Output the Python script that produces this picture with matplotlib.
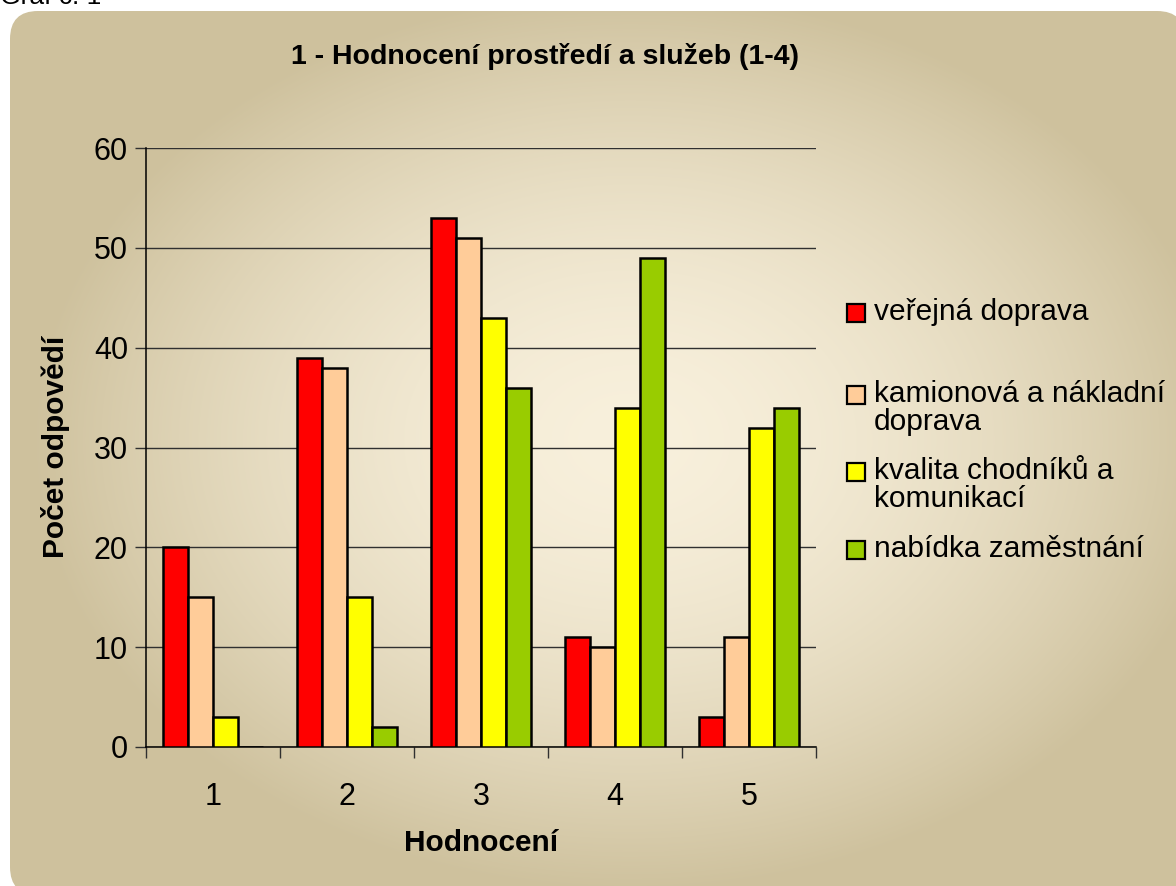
import numpy as np
import matplotlib
matplotlib.use("Agg")
import matplotlib.pyplot as plt
from matplotlib.patches import FancyBboxPatch, Rectangle
from matplotlib.ticker import FixedLocator, NullFormatter, FixedFormatter

plt.rcParams['font.family'] = ['Liberation Sans', 'DejaVu Sans']

categories = ["1", "2", "3", "4", "5"]
series_names = ["veřejná doprava", "kamionová a nákladní\ndoprava",
                "kvalita chodníků a\nkomunikací", "nabídka zaměstnání"]
verejna = [20, 39, 53, 11, 3]
kamionova = [15, 38, 51, 10, 11]
kvalita = [3, 15, 43, 34, 32]
nabidka = [0, 2, 36, 49, 34]
series_values = [verejna, kamionova, kvalita, nabidka]
colors = ["#FF0000", "#FFCC99", "#FFFF00", "#99CC00"]
y_ticks = [0, 10, 20, 30, 40, 50, 60]

W, H = 1176, 886
fig = plt.figure(figsize=(W / 100, H / 100), dpi=100)
fig.patch.set_facecolor("white")

# background gradient with rounded rectangle
bg = fig.add_axes([0, 0, 1, 1], zorder=0)
bg.set_xlim(0, W)
bg.set_ylim(H, 0)
bg.axis("off")
x0, y0, x1, y1 = 10, 11, 1185, 895
yy, xx = np.mgrid[0:H, 0:W]
cx, cy = 630, 440
hw, hh = (x1 - x0) / 2, (y1 - y0) / 2
r = np.sqrt(((xx - cx) / (hw * 1.02)) ** 2 + ((yy - cy) / (hh * 1.02)) ** 2)
t = np.clip(r, 0, 1) ** 1.7
c_in = np.array([248, 240, 220]) / 255
c_out = np.array([206, 193, 157]) / 255
img = c_in[None, None, :] * (1 - t[..., None]) + c_out[None, None, :] * t[..., None]
im = bg.imshow(img, extent=(0, W, H, 0), interpolation="bilinear", zorder=0)
clip = FancyBboxPatch((x0, y0), x1 - x0, y1 - y0,
                      boxstyle="round,pad=0,rounding_size=28",
                      transform=bg.transData, facecolor="none", edgecolor="none")
bg.add_patch(clip)
im.set_clip_path(clip)

fig.text(0 / W, 1 - 4 / H, "Graf č. 1", fontsize=19, ha="left", va="baseline")

# main axes
L, R, B, T = 146, 816, 747, 148
ax = fig.add_axes([L / W, 1 - B / H, (R - L) / W, (B - T) / H], zorder=2)
ax.patch.set_alpha(0)
n = len(categories)
w = 0.1866
idx = np.arange(n)
for j, (vals, col) in enumerate(zip(series_values, colors)):
    ax.bar(idx + 0.5 + (j - 1.5) * w, vals, width=w, color=col,
           edgecolor="black", linewidth=1.8, zorder=3)

ax.set_xlim(0, n)
ax.set_ylim(0, 60)
ax.set_yticks(y_ticks)
ax.yaxis.grid(True, color="#303030", linewidth=1.0, zorder=1)
ax.set_axisbelow(True)
for s in ["top", "right"]:
    ax.spines[s].set_visible(False)
for s in ["left", "bottom"]:
    ax.spines[s].set_color("black")
    ax.spines[s].set_linewidth(1.1)

ax.xaxis.set_major_locator(FixedLocator(np.arange(n + 1)))
ax.xaxis.set_major_formatter(NullFormatter())
ax.xaxis.set_minor_locator(FixedLocator(idx + 0.5))
ax.xaxis.set_minor_formatter(FixedFormatter(categories))
ax.tick_params(axis="x", which="major", direction="out", length=8, width=1, color="#303030")
ax.tick_params(axis="x", which="minor", length=0, pad=25, labelsize=22)
ax.tick_params(axis="y", direction="out", length=8, width=1, color="#303030",
               labelsize=22, pad=5)

fig.text(545 / W, 1 - 56 / H, "1 - Hodnocení prostředí a služeb (1-4)",
         fontsize=20.5, fontweight="bold", ha="center", va="center")
fig.text(481 / W, 1 - 843 / H, "Hodnocení", fontsize=21.5, fontweight="bold",
         ha="center", va="center")
fig.text(56 / W, 1 - 447 / H, "Počet odpovědí", fontsize=21.5, fontweight="bold",
         ha="center", va="center", rotation=90)

# legend (manual, Excel style: marker aligned with first line)
leg_y = [313, 395, 472, 550]
for name, col, ly in zip(series_names, colors, leg_y):
    fig.patches.append(Rectangle((847 / W, 1 - (ly + 9) / H), 18 / W, 18 / H,
                                 transform=fig.transFigure, facecolor=col,
                                 edgecolor="black", linewidth=1.6, zorder=5))
    fig.text(874 / W, 1 - (ly - 15) / H, name, fontsize=21.5, ha="left", va="top",
             linespacing=1.0)

fig.savefig("out.png", dpi=100)
